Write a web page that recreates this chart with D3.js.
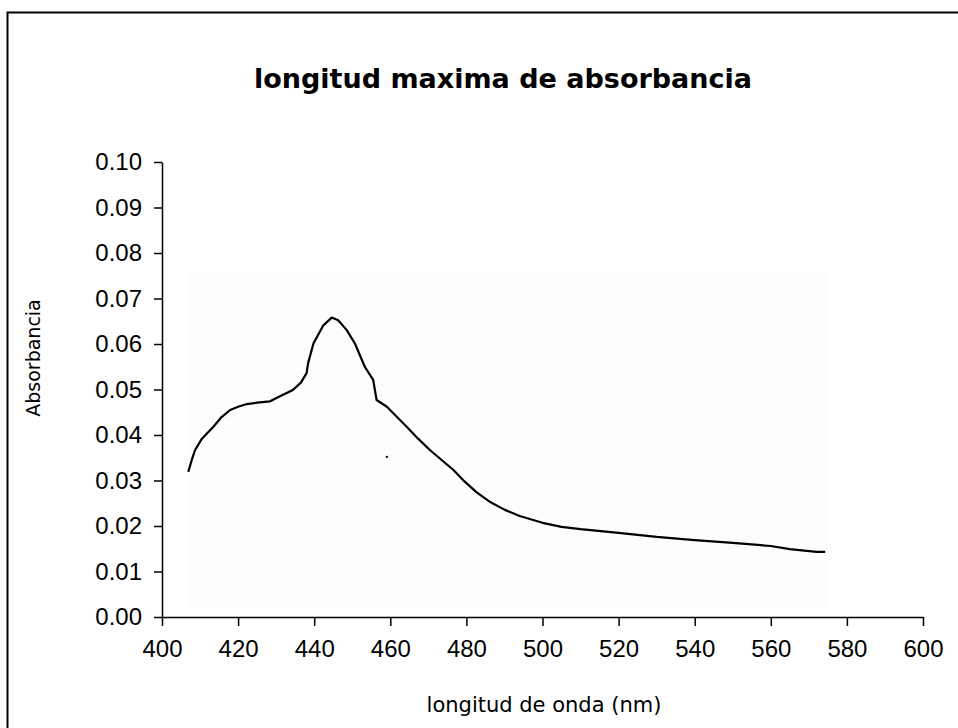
<!DOCTYPE html>
<html>
<head>
<meta charset="utf-8">
<script src="https://cdn.jsdelivr.net/npm/d3@7"></script>
<style>
  body { margin: 0; background: #fff; }
  svg { display: block; }
</style>
</head>
<body>
<svg id="chart" width="958" height="728"></svg>
<script>
// Values.
const wavelength = [406.9, 408.0, 408.7, 410.5, 413.5, 415.5, 417.9, 420.0, 422.3, 425.0, 428.4, 431.0, 434.4, 436.5, 438.0, 438.4,
    439.8, 442.4, 444.6, 446.3, 448.5, 450.7, 453.3, 455.5, 456.4, 459.1, 464.3, 467.3, 470.4, 473.5, 476.6, 479.5,
    482.7, 486.0, 490, 494, 500, 505, 510, 520, 530, 540, 550, 560, 565, 572, 574.3];
const absorbance = [0.0319, 0.0350, 0.0367, 0.0392, 0.0418, 0.0438, 0.0455, 0.0462, 0.0468, 0.0471, 0.0474, 0.0485, 0.0499, 0.0515, 0.0536, 0.0558,
    0.0601, 0.0641, 0.0658, 0.0652, 0.0631, 0.0601, 0.0550, 0.0521, 0.0477, 0.0462, 0.0418, 0.0392, 0.0367, 0.0345, 0.0323, 0.0298,
    0.0274, 0.0254, 0.0236, 0.0222, 0.0207, 0.0198, 0.0193, 0.0185, 0.0176, 0.0169, 0.0163, 0.0156, 0.0149, 0.0143, 0.0143];
const strayPoint = [459.1, 0.0352]; // the lone dot under the curve
const xTicks = d3.range(400, 601, 20);
const yTicks = d3.range(0, 0.1001, 0.01);

const svg = d3.select("#chart");

// Outer frame (right and bottom edges fall outside the picture)
svg.append("rect")
    .attr("x", 7.5).attr("y", 12.5)
    .attr("width", 1000).attr("height", 1000)
    .attr("fill", "none").attr("stroke", "#000").attr("stroke-width", 2);

const x = d3.scaleLinear().domain([400, 600]).range([162, 923]);
const y = d3.scaleLinear().domain([0, 0.1]).range([617, 162]);

// very faint plot-area shading seen in the picture
svg.append("rect")
    .attr("x", x(407)).attr("y", y(0.0763))
    .attr("width", x(575) - x(407)).attr("height", y(0.0015) - y(0.0763))
    .attr("fill", "#fdfdfd");

const tickFont = "'Liberation Sans', Arial, sans-serif";
const comic = "'Comic Sans MS', 'DejaVu Sans', sans-serif";

const xAxis = svg.append("g")
    .attr("transform", `translate(0,${y(0)})`)
    .call(d3.axisBottom(x).tickValues(xTicks).tickSize(9).tickSizeOuter(0).tickPadding(14).tickFormat(d3.format("d")));
const yAxis = svg.append("g")
    .attr("transform", `translate(${x(400)},0)`)
    .call(d3.axisLeft(y).tickValues(yTicks).tickSize(8).tickSizeOuter(0).tickPadding(12).tickFormat(d3.format(".2f")));

[xAxis, yAxis].forEach(g => {
    g.select(".domain").attr("stroke", "#000").attr("stroke-width", 1.5);
    g.selectAll(".tick line").attr("stroke", "#000").attr("stroke-width", 1.5);
    g.selectAll(".tick text").attr("fill", "#000")
        .style("font-family", tickFont).style("font-size", "24px");
});

// curve
svg.append("path")
    .datum(d3.zip(wavelength, absorbance))
    .attr("fill", "none")
    .attr("stroke", "#000")
    .attr("stroke-width", 2.2)
    .attr("stroke-linejoin", "round")
    .attr("d", d3.line().x(d => x(d[0])).y(d => y(d[1])));

svg.append("circle")
    .attr("cx", x(strayPoint[0])).attr("cy", y(strayPoint[1]))
    .attr("r", 1.2).attr("fill", "#000");

// title and axis labels
svg.append("text")
    .attr("x", 503).attr("y", 88)
    .attr("text-anchor", "middle")
    .style("font-family", comic).style("font-weight", "bold").style("font-size", "27px")
    .text("longitud maxima de absorbancia");

svg.append("text")
    .attr("x", 544).attr("y", 712)
    .attr("text-anchor", "middle")
    .style("font-family", comic).style("font-size", "21px")
    .text("longitud de onda (nm)");

svg.append("text")
    .attr("transform", "translate(40,358) rotate(-90)")
    .attr("text-anchor", "middle")
    .style("font-family", comic).style("font-size", "19px")
    .text("Absorbancia");
</script>
</body>
</html>
